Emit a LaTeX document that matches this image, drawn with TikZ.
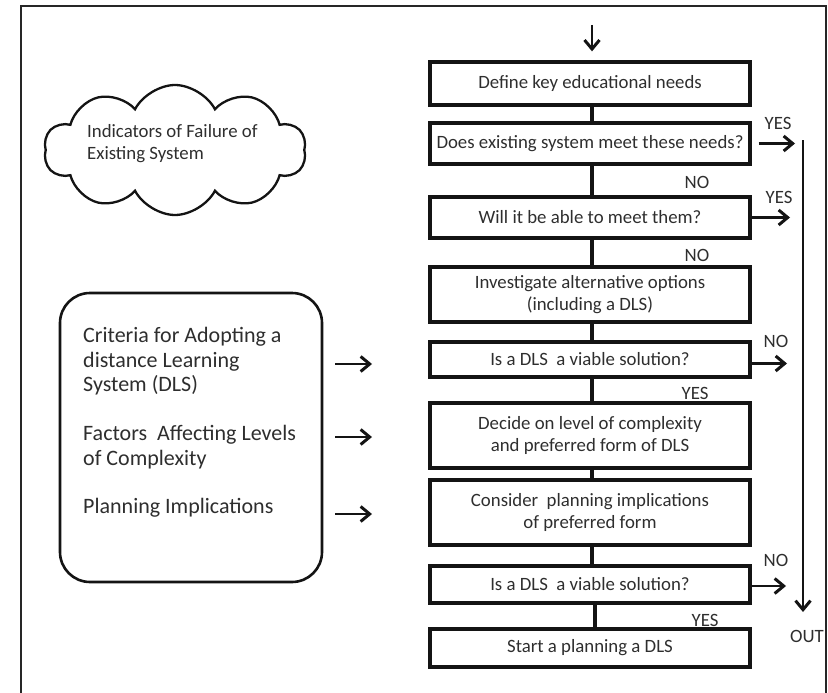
\documentclass[tikz,border=0pt]{standalone}
\usepackage{fontspec}
\setmainfont{Carlito}
\usetikzlibrary{arrows.meta,shapes.symbols}
\begin{document}
\begin{tikzpicture}[x=1pt,y=-1pt,
  txt/.style={text=black!82, font=\fontsize{18.8}{22}\selectfont},
  flowbox/.style={draw=black!92, line width=3.3, minimum width=320, inner sep=0, align=center, txt},
  link/.style={draw=black!92, line width=3.3},
  arr/.style={draw=black!92, line width=2.6, -{Straight Barb[length=9pt,width=15pt,line width=3pt]}},
  lbl/.style={txt, inner sep=0},
  side/.style={text=black!82, font=\fontsize{22}{24.5}\selectfont, align=left, inner sep=0, anchor=west}]
\useasboundingbox (0,0) rectangle (828,693);

% page frame, open at the bottom
\draw[line width=2.2, black!85] (21,693) -- (21,6) -- (826,6) -- (826,693);

% cloud with the failure indicators
\node[cloud, draw=black!92, line width=2.3, cloud puffs=10, cloud puff arc=125, aspect=2.0,
      minimum width=262, minimum height=130, inner sep=0] (cl) at (175,150) {};
\node[side, font=\fontsize{18.8}{22}\selectfont] (cltext) at (87,144) {Indicators of Failure of\\Existing System};

% rounded panel on the left
\node[draw=black!92, line width=2.6, rounded corners=30, minimum width=262, minimum height=289, inner sep=0] (lb) at (191,437.5) {};
\node[side] (crit) at (83,361.5) {Criteria for Adopting a\\distance Learning\\System (DLS)};
\node[side] (fact) at (83,447) {Factors~~Affecting Levels\\of Complexity};
\node[side] (plan) at (83,508) {Planning Implications};

\coordinate (a1s) at (335,364); \coordinate (a1e) at (372,364);
\coordinate (a2s) at (335,437); \coordinate (a2e) at (372,437);
\coordinate (a3s) at (335,514); \coordinate (a3e) at (372,514);
\draw[arr, line width=2.3] (a1s) -- (a1e);
\draw[arr, line width=2.3] (a2s) -- (a2e);
\draw[arr, line width=2.3] (a3s) -- (a3e);

% main flow
\node[flowbox, minimum height=43] (b1) at (590,83.5) {Define key educational needs};
\node[flowbox, minimum height=41] (b2) at (590,143.5) {Does existing system meet these needs?};
\node[flowbox, minimum height=41] (b3) at (590,217.5) {Will it be able to meet them?};
\node[flowbox, minimum height=55] (b4) at (590,294.5) {Investigate alternative options\\(including a DLS)};
\node[flowbox, minimum height=35] (b5) at (590,359.5) {Is a DLS~~a viable solution?};
\node[flowbox, minimum height=65] (b6) at (590,435.5) {Decide on level of complexity\\and preferred form of DLS};
\node[flowbox, minimum height=65] (b7) at (590,512.5) {Consider~~planning implications\\of preferred form};
\node[flowbox, minimum height=37] (b8) at (590,584.5) {Is a DLS~~a viable solution?};
\node[flowbox, minimum height=38] (b9) at (590,648) {Start a planning a DLS};

\coordinate (top) at (592,25);
\draw[arr] (top) -- ([xshift=2,yshift=9]b1.north);

\draw[link] ([xshift=2]b1.south) -- ([xshift=2]b2.north);
\draw[link] ([xshift=2]b2.south) -- ([xshift=2]b3.north);
\draw[link] ([xshift=2]b3.south) -- ([xshift=2]b4.north);
\draw[link] ([xshift=2]b4.south) -- ([xshift=2]b5.north);
\draw[link] ([xshift=2]b5.south) -- ([xshift=2]b6.north);
\draw[link] ([xshift=2]b6.south) -- ([xshift=2]b7.north);
\draw[link] ([xshift=2]b7.south) -- ([xshift=2]b8.north);
\draw[link] ([xshift=5]b8.south) -- ([xshift=5]b9.north);

% branch labels
\node[lbl] (n1) at (697,182) {NO};
\node[lbl] (n2) at (697,255) {NO};
\node[lbl] (y3) at (695,393) {YES};
\node[lbl] (y4) at (705,620) {YES};

\node[lbl] (y1) at (778,123) {YES};
\node[lbl] (y2) at (779,197) {YES};
\node[lbl] (n3) at (776,341) {NO};
\node[lbl] (n4) at (776,560) {NO};

% exits to the right
\coordinate (r2) at (795,143.5);
\coordinate (r3) at (790,217.5);
\coordinate (r5) at (787,363.5);
\coordinate (r8) at (786,586);
\draw[arr] ([xshift=7]b2.east) -- (r2);
\draw[arr] (b3.east) -- (r3);
\draw[arr] ([yshift=-4]b5.east) -- (r5);
\draw[arr] ([yshift=-1.5]b8.east) -- (r8);

\coordinate (outtop) at (803,140);
\coordinate (outend) at (803,612);
\draw[arr] (outtop) -- (outend);
\node[lbl] (out) at (807,636) {OUT};
\end{tikzpicture}
\end{document}
